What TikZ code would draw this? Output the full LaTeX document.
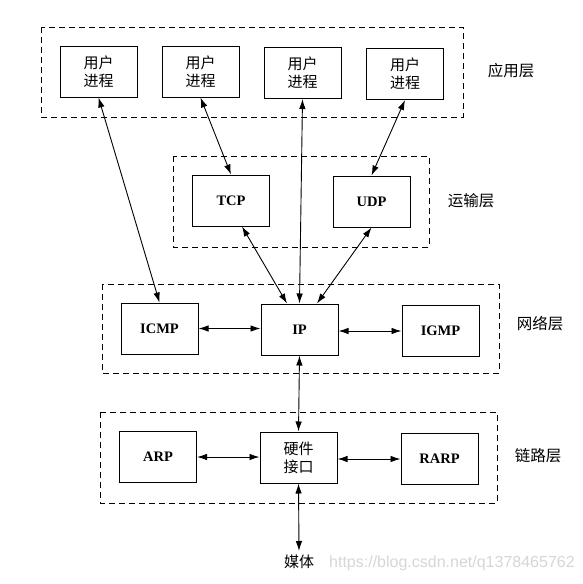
\documentclass[tikz,border=0pt]{standalone}
\usepackage{fontspec}
\setmainfont{Liberation Serif}
\newfontfamily\cjk{Noto Sans CJK SC}
\newfontfamily\wmfont{Liberation Sans}
\usetikzlibrary{arrows.meta}
\begin{document}
\begin{tikzpicture}[x=1pt,y=-1pt,
  box/.style={draw, line width=1pt, minimum width=77pt, minimum height=51pt, inner sep=0pt, align=center},
  cn/.style={font=\cjk\fontsize{15}{18}\selectfont},
  en/.style={font=\bfseries\fontsize{14.5}{16}\selectfont},
  layer/.style={draw, line width=1pt, dash pattern=on 6pt off 4pt},
  lbl/.style={font=\cjk\fontsize{15.5}{18}\selectfont},
  conn/.style={line width=0.9pt, {Latex[length=10pt,width=6.5pt]}-{Latex[length=10pt,width=6.5pt]}}
]
\useasboundingbox (0,0) rectangle (583,584);
% layer frames
\draw[layer] (41,27) rectangle (463,117);
\draw[layer] (173,156) rectangle (429,247);
\draw[layer] (102,284) rectangle (499,373);
\draw[layer] (100,412) rectangle (497,503);
% application
\node[box,cn] (p1) at (98.5,71.5) {用户\\进程};
\node[box,cn] (p2) at (200.5,71.5) {用户\\进程};
\node[box,cn] (p3) at (302.5,73) {用户\\进程};
\node[box,cn] (p4) at (405,74) {用户\\进程};
% transport
\node[box,en] (tcp) at (231,200.5) {TCP};
\node[box,en] (udp) at (371.5,201.5) {UDP};
% network
\node[box,en] (icmp) at (159.5,328.5) {ICMP};
\node[box,en] (ip) at (299.5,329.5) {IP};
\node[box,en] (igmp) at (440.5,331) {IGMP};
% link
\node[box,en] (arp) at (158,457) {ARP};
\node[box,cn] (hw) at (298.5,457.5) {硬件\\接口};
\node[box,en] (rarp) at (439.5,459) {RARP};
\node[cn, anchor=north] (media) at (299,551) {媒体};
% layer labels
\node[lbl] (l1) at (511,71) {应用层};
\node[lbl] (l2) at (471,201) {运输层};
\node[lbl] (l3) at (540,324) {网络层};
\node[lbl] (l4) at (538,456) {链路层};
% watermark
\node[font=\wmfont\fontsize{16}{17}\selectfont, text=black!16, anchor=west, inner sep=0pt] (wm) at (329,563) {https://blog.csdn.net/q1378465762};
% connectors
\draw[conn] (p1.south) -- (icmp.north);
\draw[conn] (p2.south) -- (tcp.north);
\draw[conn] (p3.south) -- (ip.north);
\draw[conn] (p4.south) -- (udp.north);
\draw[conn] ([xshift=11pt]tcp.south) -- ([xshift=-12.5pt]ip.north);
\draw[conn] (udp.south) -- ([xshift=17.5pt]ip.north);
\draw[conn] (icmp.east) -- (ip.west |- icmp.east);
\draw[conn] (ip.east |- igmp.west) -- (igmp.west);
\draw[conn] (ip.south) -- (hw.north);
\draw[conn] (arp.east) -- (hw.west |- arp.east);
\draw[conn] (hw.east |- rarp.west) -- (rarp.west);
\draw[conn] (hw.south) -- (media.north);
\end{tikzpicture}
\end{document}
